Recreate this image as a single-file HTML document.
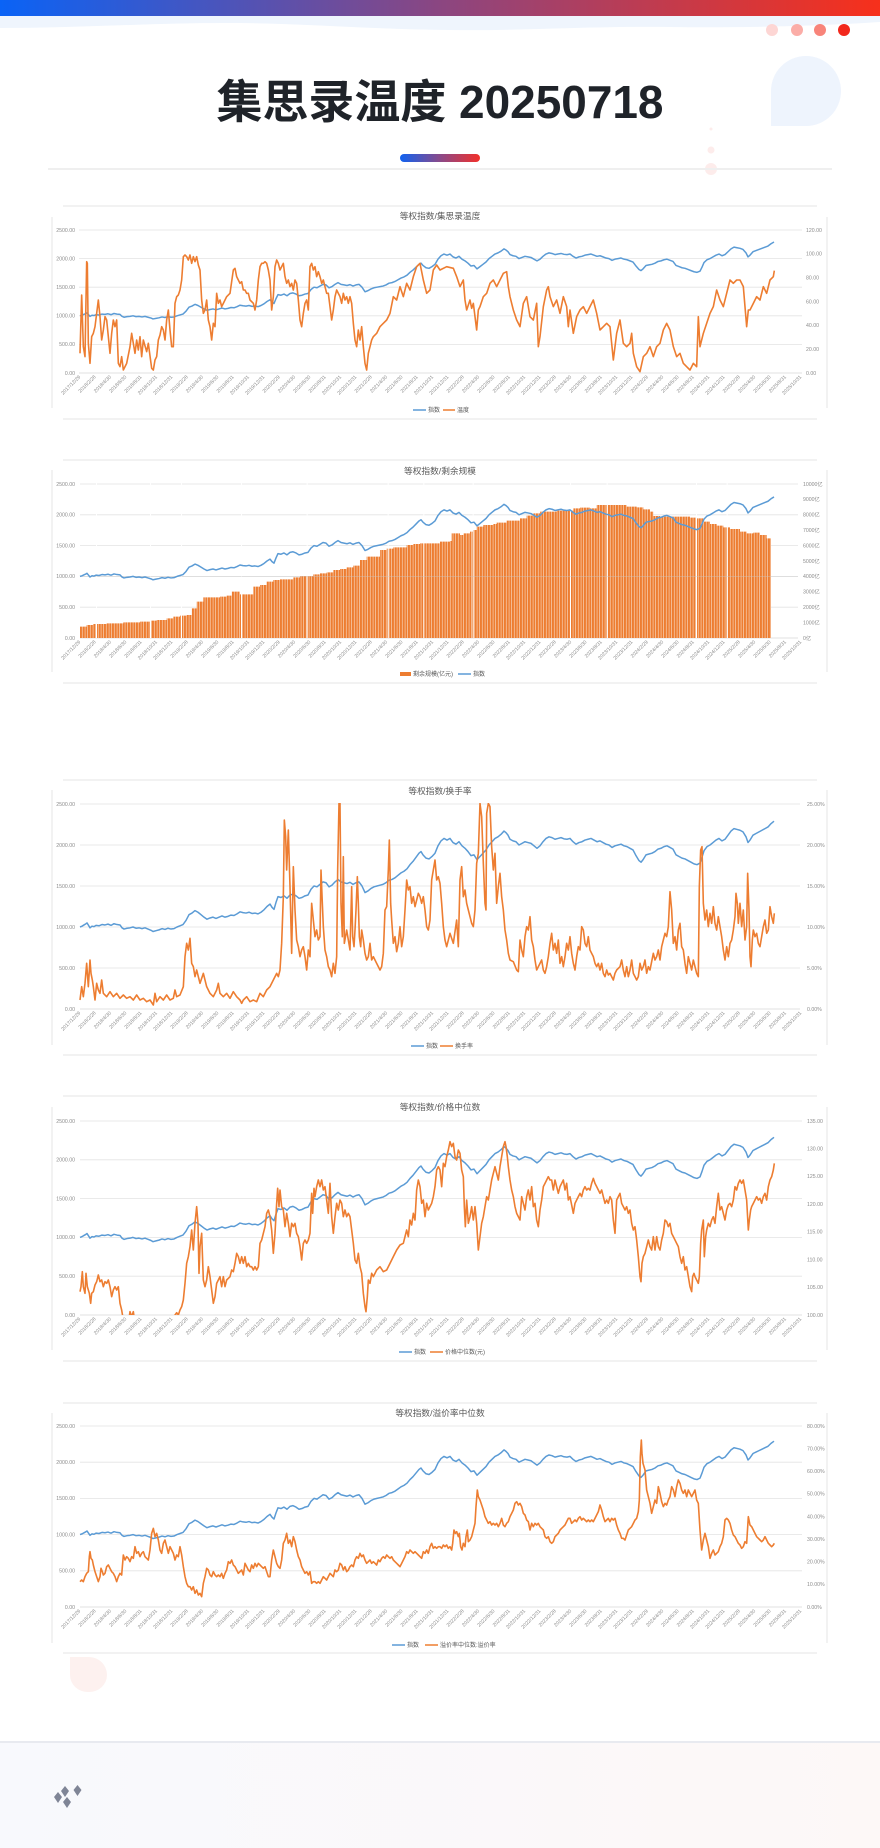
<!DOCTYPE html>
<html><head><meta charset="utf-8">
<style>
html,body{margin:0;padding:0;background:#fff;}
body{width:880px;height:1848px;overflow:hidden;position:relative;}
svg{position:absolute;left:0;top:0;}
text{font-family:"Liberation Sans","Noto Sans CJK SC",sans-serif;}
.ax{font-size:5.2px;fill:#8c8c8c;}
.al{text-anchor:end;}
.xl text{font-size:5px;fill:#8c8c8c;text-anchor:end;}
.tt{font-size:8.7px;fill:#595959;text-anchor:middle;}
.lg{font-size:6px;fill:#595959;}
.gr{stroke:#e3e3e3;stroke-width:0.8;}
.fr{stroke:#e6e6e6;stroke-width:1;}
.bl{fill:none;stroke:#5b9bd5;stroke-width:1.5;stroke-linejoin:round;}
.or{fill:none;stroke:#ed7d31;stroke-width:1.6;stroke-linejoin:round;}
</style></head>
<body>
<svg width="880" height="1848" viewBox="0 0 880 1848" xmlns="http://www.w3.org/2000/svg">
<defs>
<linearGradient id="gtop" x1="0" x2="1" y1="0" y2="0"><stop offset="0" stop-color="#0a63f6"/><stop offset="0.5" stop-color="#8b4681"/><stop offset="1" stop-color="#f7301b"/></linearGradient>
<linearGradient id="gpill" x1="0" x2="1" y1="0" y2="0"><stop offset="0" stop-color="#1062f0"/><stop offset="0.5" stop-color="#8a4a8a"/><stop offset="1" stop-color="#f2302a"/></linearGradient>
<linearGradient id="gfoot" x1="0" x2="1" y1="0" y2="0"><stop offset="0" stop-color="#f8f9fd"/><stop offset="1" stop-color="#fdf8f7"/></linearGradient>
<pattern id="bp" width="8" height="10" patternUnits="userSpaceOnUse"><rect width="8" height="10" fill="#fbe3d3"/><rect width="6.3" height="10" fill="#ed7d31"/></pattern>
<clipPath id="c3"><rect x="78" y="803" width="725" height="206"/></clipPath>
<clipPath id="c4"><rect x="78" y="1120" width="725" height="195"/></clipPath>
<polyline id="idx" class="bl" vector-effect="non-scaling-stroke" points="80,1000 82,1010 84,1025 86,1040 87,1050 88,1030 90,990 92,1010 94,1005 96,1020 99,1015 102,1030 105,1025 108,1035 111,1020 114,1040 117,1030 120,1025 122,990 124,975 127,985 130,990 133,1000 136,985 139,990 142,980 145,990 148,975 151,960 153,945 156,955 159,965 162,980 165,970 168,985 171,975 174,980 177,1000 180,1015 183,1030 186,1080 189,1150 192,1170 195,1200 198,1180 201,1150 204,1120 207,1095 210,1110 213,1120 216,1105 219,1120 222,1135 225,1120 228,1130 231,1145 234,1140 237,1160 240,1185 243,1175 246,1170 249,1180 252,1165 255,1170 258,1160 261,1180 264,1210 267,1250 270,1280 272,1240 274,1215 276,1300 278,1370 281,1360 284,1380 287,1350 290,1390 293,1400 296,1380 299,1350 302,1360 305,1380 308,1390 311,1460 314,1500 317,1490 320,1520 323,1550 326,1540 329,1490 332,1510 335,1550 338,1580 341,1550 344,1540 347,1530 350,1545 353,1520 356,1540 359,1550 362,1500 365,1420 368,1440 371,1470 374,1490 377,1500 380,1510 383,1520 386,1540 389,1570 392,1580 395,1600 398,1630 401,1660 404,1680 407,1710 410,1760 413,1800 416,1850 419,1900 421,1920 423,1880 426,1840 429,1830 432,1860 435,1900 438,1990 441,2050 444,2080 447,2060 450,2080 453,2030 456,2010 459,2040 462,1990 465,1960 468,1920 471,1870 474,1880 477,1820 480,1860 483,1900 486,1940 489,2000 492,2040 495,2080 498,2100 501,2130 504,2170 506,2150 508,2120 510,2070 513,2050 516,2040 519,2000 522,2020 525,2040 528,2030 531,2020 534,1990 537,1960 540,1990 543,2040 546,2080 549,2100 552,2090 555,2070 558,2080 561,2090 564,2075 567,2070 570,2080 573,2040 576,2010 579,2030 582,2040 585,2060 588,2070 591,2080 594,2060 597,2040 600,2050 603,2030 606,2010 609,2000 612,1970 615,1990 618,2000 621,2010 624,1990 627,1980 630,1960 633,1940 636,1870 639,1810 641,1790 643,1820 646,1880 649,1890 652,1900 655,1920 658,1950 661,1960 664,1980 667,1990 670,1970 673,1950 676,1880 679,1860 682,1840 685,1830 688,1810 691,1790 694,1770 697,1760 700,1780 702,1850 704,1930 707,1980 710,2000 713,2030 716,2060 719,2080 722,2050 725,2070 728,2120 731,2170 734,2200 737,2190 740,2180 743,2160 746,2100 748,2030 750,2060 753,2120 756,2140 759,2160 762,2180 765,2200 768,2220 771,2260 774,2290"/>
</defs>

<!-- HEADER -->
<rect x="0" y="0" width="880" height="16" fill="url(#gtop)"/>
<path d="M0,16 H880 V22 C820,26 740,28 670,27 C590,26 520,31 450,30 C360,29 300,23 225,23 C150,23 80,28 0,28 Z" fill="#eff5fd"/>
<circle cx="772" cy="30" r="6" fill="#fdd6d4"/>
<circle cx="797" cy="30" r="6" fill="#fbada7"/>
<circle cx="820" cy="30" r="6" fill="#f8847a"/>
<circle cx="844" cy="30" r="6" fill="#f2281c"/>
<path d="M771,126 V91 A35,35 0 0 1 841,91 A35,35 0 0 1 806,126 Z" fill="#eef4fd"/>
<circle cx="711" cy="129" r="1.5" fill="#fdeceb"/>
<circle cx="711" cy="150" r="3.5" fill="#fdeceb"/>
<ellipse cx="711" cy="169" rx="6" ry="6" fill="#fdeceb"/>
<text x="440" y="118" text-anchor="middle" textLength="447" lengthAdjust="spacingAndGlyphs" style="font-family:'Liberation Sans','Noto Sans CJK SC',sans-serif;font-size:46px;font-weight:700;fill:#1f2329;">集思录温度 20250718</text>
<rect x="400" y="154" width="80" height="8" rx="4" fill="url(#gpill)"/>
<rect x="48" y="168" width="784" height="2" fill="#efefef"/>

<!-- ============ CHART 1 ============ -->
<g class="fr"><line x1="63" y1="206" x2="817" y2="206"/><line x1="63" y1="419" x2="817" y2="419"/><line x1="52" y1="217" x2="52" y2="408"/><line x1="827" y1="217" x2="827" y2="408"/></g>
<text class="tt" x="440" y="219">等权指数/集思录温度</text>
<g class="gr"><line x1="79" x2="802" y1="230" y2="230"/><line x1="79" x2="802" y1="258.6" y2="258.6"/><line x1="79" x2="802" y1="287.2" y2="287.2"/><line x1="79" x2="802" y1="315.8" y2="315.8"/><line x1="79" x2="802" y1="344.4" y2="344.4"/><line x1="79" x2="802" y1="373" y2="373" stroke="#d6d6d6"/></g>
<g class="ax al"><text x="75" y="231.8">2500.00</text><text x="75" y="260.4">2000.00</text><text x="75" y="289">1500.00</text><text x="75" y="317.6">1000.00</text><text x="75" y="346.2">500.00</text><text x="75" y="374.8">0.00</text></g>
<g class="ax"><text x="806" y="231.8">120.00</text><text x="806" y="255.6">100.00</text><text x="806" y="279.5">80.00</text><text x="806" y="303.3">60.00</text><text x="806" y="327.1">40.00</text><text x="806" y="351">20.00</text><text x="806" y="374.8">0.00</text></g>
<g class="xl" transform="translate(0,376)">
<text transform="translate(79.5,0) rotate(-45)" dy="1.8">2017/12/29</text><text transform="translate(94.84,0) rotate(-45)" dy="1.8">2018/2/28</text><text transform="translate(110.18,0) rotate(-45)" dy="1.8">2018/4/30</text><text transform="translate(125.52,0) rotate(-45)" dy="1.8">2018/6/30</text><text transform="translate(140.86,0) rotate(-45)" dy="1.8">2018/8/31</text><text transform="translate(156.2,0) rotate(-45)" dy="1.8">2018/10/31</text><text transform="translate(171.54,0) rotate(-45)" dy="1.8">2018/12/31</text><text transform="translate(186.88,0) rotate(-45)" dy="1.8">2019/2/28</text><text transform="translate(202.22,0) rotate(-45)" dy="1.8">2019/4/30</text><text transform="translate(217.56,0) rotate(-45)" dy="1.8">2019/6/30</text><text transform="translate(232.9,0) rotate(-45)" dy="1.8">2019/8/31</text><text transform="translate(248.24,0) rotate(-45)" dy="1.8">2019/10/31</text><text transform="translate(263.58,0) rotate(-45)" dy="1.8">2019/12/31</text><text transform="translate(278.92,0) rotate(-45)" dy="1.8">2020/2/29</text><text transform="translate(294.26,0) rotate(-45)" dy="1.8">2020/4/30</text><text transform="translate(309.6,0) rotate(-45)" dy="1.8">2020/6/30</text><text transform="translate(324.94,0) rotate(-45)" dy="1.8">2020/8/31</text><text transform="translate(340.28,0) rotate(-45)" dy="1.8">2020/10/31</text><text transform="translate(355.62,0) rotate(-45)" dy="1.8">2020/12/31</text><text transform="translate(370.96,0) rotate(-45)" dy="1.8">2021/2/28</text><text transform="translate(386.3,0) rotate(-45)" dy="1.8">2021/4/30</text><text transform="translate(401.64,0) rotate(-45)" dy="1.8">2021/6/30</text><text transform="translate(416.98,0) rotate(-45)" dy="1.8">2021/8/31</text><text transform="translate(432.32,0) rotate(-45)" dy="1.8">2021/10/31</text><text transform="translate(447.66,0) rotate(-45)" dy="1.8">2021/12/31</text><text transform="translate(463,0) rotate(-45)" dy="1.8">2022/2/28</text><text transform="translate(478.34,0) rotate(-45)" dy="1.8">2022/4/30</text><text transform="translate(493.68,0) rotate(-45)" dy="1.8">2022/6/30</text><text transform="translate(509.02,0) rotate(-45)" dy="1.8">2022/8/31</text><text transform="translate(524.36,0) rotate(-45)" dy="1.8">2022/10/31</text><text transform="translate(539.7,0) rotate(-45)" dy="1.8">2022/12/31</text><text transform="translate(555.04,0) rotate(-45)" dy="1.8">2023/2/28</text><text transform="translate(570.38,0) rotate(-45)" dy="1.8">2023/4/30</text><text transform="translate(585.72,0) rotate(-45)" dy="1.8">2023/6/30</text><text transform="translate(601.06,0) rotate(-45)" dy="1.8">2023/8/31</text><text transform="translate(616.4,0) rotate(-45)" dy="1.8">2023/10/31</text><text transform="translate(631.74,0) rotate(-45)" dy="1.8">2023/12/31</text><text transform="translate(647.08,0) rotate(-45)" dy="1.8">2024/2/29</text><text transform="translate(662.42,0) rotate(-45)" dy="1.8">2024/4/30</text><text transform="translate(677.76,0) rotate(-45)" dy="1.8">2024/6/30</text><text transform="translate(693.1,0) rotate(-45)" dy="1.8">2024/8/31</text><text transform="translate(708.44,0) rotate(-45)" dy="1.8">2024/10/31</text><text transform="translate(723.78,0) rotate(-45)" dy="1.8">2024/12/31</text><text transform="translate(739.12,0) rotate(-45)" dy="1.8">2025/2/28</text><text transform="translate(754.46,0) rotate(-45)" dy="1.8">2025/4/30</text><text transform="translate(769.8,0) rotate(-45)" dy="1.8">2025/6/30</text><text transform="translate(785.14,0) rotate(-45)" dy="1.8">2025/8/31</text><text transform="translate(800.48,0) rotate(-45)" dy="1.8">2025/10/31</text>
</g>
<use href="#idx" transform="translate(0,373) scale(1,-0.0572)"/>
<g transform="translate(40,200) scale(0.33333)"><polyline class="or" vector-effect="non-scaling-stroke" points="120,460 125,285 130,440 135,470 140,185 142,190 145,430 150,490 155,410 160,400 165,380 170,340 175,300 180,350 185,420 190,390 195,350 200,360 210,460 215,400 220,360 225,380 230,360 235,490 240,500 245,470 250,510 260,490 270,440 275,400 280,430 285,460 290,420 295,450 300,410 305,470 310,420 320,455 325,430 335,505 340,510 345,480 350,470 355,420 360,405 365,380 370,390 375,420 380,360 385,330 390,390 395,440 400,440 405,310 410,290 415,285 420,270 425,240 430,170 435,165 440,170 445,180 450,165 455,190 460,170 465,185 470,170 475,195 480,210 485,300 490,340 495,330 500,300 505,360 510,380 515,420 520,370 525,380 530,280 535,310 540,300 545,320 550,310 555,300 560,290 570,280 575,245 580,210 585,205 590,230 595,240 600,250 605,245 610,270 615,270 620,280 625,280 630,300 640,310 645,330 650,300 655,240 660,200 665,190 670,190 675,185 680,190 685,210 690,240 695,330 700,290 705,200 710,180 715,190 720,210 725,200 730,190 735,230 740,250 745,240 750,260 755,250 760,270 765,240 770,250 775,300 780,360 785,380 790,340 795,310 800,300 805,330 810,200 815,190 820,210 825,200 830,230 835,215 840,230 845,250 850,240 855,260 860,280 865,280 870,320 875,360 880,330 885,290 890,270 895,280 900,290 905,310 910,280 915,300 920,290 925,310 930,290 935,310 940,370 945,420 950,440 955,390 960,420 965,380 970,440 975,490 980,510 985,460 990,440 995,420 1000,410 1010,400 1020,380 1030,370 1040,360 1050,340 1060,290 1070,300 1080,260 1090,290 1100,250 1110,270 1120,230 1130,200 1140,190 1150,240 1160,280 1170,270 1180,210 1190,195 1200,210 1220,200 1240,205 1250,230 1260,260 1270,240 1275,300 1280,330 1290,300 1295,325 1300,310 1310,390 1315,330 1320,320 1330,290 1340,280 1350,250 1360,240 1370,260 1380,240 1390,220 1400,215 1405,260 1410,290 1420,330 1430,360 1440,380 1450,310 1460,290 1470,350 1480,360 1490,310 1495,440 1500,410 1510,320 1520,270 1525,260 1530,290 1540,320 1550,300 1560,340 1570,290 1580,320 1585,380 1590,330 1600,400 1610,350 1620,330 1630,320 1640,340 1650,320 1660,300 1670,340 1680,390 1690,380 1700,370 1710,380 1720,480 1730,400 1740,360 1750,430 1760,440 1770,430 1775,400 1780,460 1790,500 1800,515 1810,470 1820,460 1830,440 1840,470 1850,440 1860,430 1870,390 1880,370 1890,390 1900,440 1910,470 1920,460 1930,490 1940,500 1950,510 1960,490 1970,500 1975,350 1980,440 1990,400 2000,370 2010,340 2020,320 2030,270 2040,300 2050,320 2060,280 2070,240 2080,250 2090,240 2100,240 2110,260 2120,380 2125,330 2130,330 2140,310 2150,290 2160,300 2170,260 2180,280 2190,240 2200,230 2203,212"/></g>
<line x1="413" y1="410" x2="426" y2="410" stroke="#5b9bd5" stroke-width="1.5"/><text class="lg" x="428" y="412">指数</text>
<line x1="443" y1="410" x2="455" y2="410" stroke="#ed7d31" stroke-width="1.5"/><text class="lg" x="457" y="412">温度</text>

<!-- ============ CHART 2 ============ -->
<g class="fr"><line x1="63" y1="460" x2="817" y2="460"/><line x1="63" y1="683" x2="817" y2="683"/><line x1="52" y1="470" x2="52" y2="672"/><line x1="827" y1="470" x2="827" y2="672"/></g>
<text class="tt" x="440" y="474">等权指数/剩余规模</text>
<g class="gr"><line x1="80" x2="798" y1="484" y2="484"/><line x1="80" x2="798" y1="514.8" y2="514.8"/><line x1="80" x2="798" y1="545.6" y2="545.6"/><line x1="80" x2="798" y1="576.4" y2="576.4"/><line x1="80" x2="798" y1="607.2" y2="607.2"/><line x1="80" x2="798" y1="638" y2="638" stroke="#d6d6d6"/></g>
<g transform="translate(40,450) scale(0.33333)"><polygon fill="url(#bp)" points="120,564 120,530 140,530 140,525 160,525 160,522 200,522 200,520 250,520 250,517 300,517 300,515 330,515 330,512 350,512 350,510 380,510 380,505 400,505 400,500 420,500 420,497 440,497 440,495 455,495 455,475 470,475 470,455 490,455 490,442 540,442 540,440 560,440 560,437 575,437 575,425 600,425 600,433 640,433 640,410 660,410 660,405 680,405 680,395 700,395 700,390 720,390 720,388 760,388 760,382 780,382 780,378 820,378 820,373 840,373 840,370 860,370 860,367 880,367 880,360 900,360 900,357 920,357 920,352 940,352 940,347 960,347 960,330 980,330 980,320 1020,320 1020,300 1040,300 1040,296 1060,296 1060,292 1100,292 1100,285 1120,285 1120,282 1140,282 1140,280 1200,280 1200,275 1230,275 1230,273 1235,273 1235,250 1260,250 1260,255 1270,255 1270,250 1290,250 1290,245 1300,245 1300,240 1310,240 1310,230 1330,230 1330,225 1360,225 1360,222 1370,222 1370,218 1400,218 1400,212 1440,212 1440,205 1460,205 1460,197 1480,197 1480,190 1500,190 1500,185 1550,185 1550,182 1600,182 1600,175 1620,175 1620,173 1650,173 1650,175 1670,175 1670,165 1760,165 1760,170 1790,170 1790,172 1810,172 1810,178 1830,178 1830,185 1840,185 1840,198 1860,198 1860,200 1950,200 1950,203 1970,203 1970,205 1990,205 1990,215 2010,215 2010,222 2030,222 2030,227 2050,227 2050,232 2070,232 2070,237 2100,237 2100,245 2120,245 2120,250 2140,250 2140,248 2160,248 2160,255 2180,255 2180,265 2193,265 2193,564"/>
<g fill="#fff"><rect x="423" y="100" width="3" height="464"/><rect x="1043" y="100" width="3" height="464"/><rect x="1150" y="100" width="3" height="464"/><rect x="1298" y="100" width="3" height="464"/><rect x="1700" y="100" width="3" height="464"/><rect x="1968" y="100" width="3" height="464"/><rect x="2060" y="100" width="3" height="464"/><rect x="168" y="100" width="3" height="464"/><rect x="330" y="100" width="3" height="464"/><rect x="603" y="100" width="3" height="464"/><rect x="800" y="100" width="3" height="464"/><rect x="1590" y="100" width="3" height="464"/></g></g>
<line x1="80" x2="798" y1="576.4" y2="576.4" stroke="#c9c9c9" stroke-width="0.6" opacity="0.6"/>
<g class="ax al"><text x="75" y="485.8">2500.00</text><text x="75" y="516.6">2000.00</text><text x="75" y="547.4">1500.00</text><text x="75" y="578.2">1000.00</text><text x="75" y="609">500.00</text><text x="75" y="639.8">0.00</text></g>
<g class="ax"><text x="803" y="485.8">10000亿</text><text x="803" y="501.2">9000亿</text><text x="803" y="516.6">8000亿</text><text x="803" y="532">7000亿</text><text x="803" y="547.4">6000亿</text><text x="803" y="562.8">5000亿</text><text x="803" y="578.2">4000亿</text><text x="803" y="593.6">3000亿</text><text x="803" y="609">2000亿</text><text x="803" y="624.4">1000亿</text><text x="803" y="639.8">0亿</text></g>
<g class="xl" transform="translate(0,641)">
<text transform="translate(79.5,0) rotate(-45)" dy="1.8">2017/12/29</text><text transform="translate(94.84,0) rotate(-45)" dy="1.8">2018/2/28</text><text transform="translate(110.18,0) rotate(-45)" dy="1.8">2018/4/30</text><text transform="translate(125.52,0) rotate(-45)" dy="1.8">2018/6/30</text><text transform="translate(140.86,0) rotate(-45)" dy="1.8">2018/8/31</text><text transform="translate(156.2,0) rotate(-45)" dy="1.8">2018/10/31</text><text transform="translate(171.54,0) rotate(-45)" dy="1.8">2018/12/31</text><text transform="translate(186.88,0) rotate(-45)" dy="1.8">2019/2/28</text><text transform="translate(202.22,0) rotate(-45)" dy="1.8">2019/4/30</text><text transform="translate(217.56,0) rotate(-45)" dy="1.8">2019/6/30</text><text transform="translate(232.9,0) rotate(-45)" dy="1.8">2019/8/31</text><text transform="translate(248.24,0) rotate(-45)" dy="1.8">2019/10/31</text><text transform="translate(263.58,0) rotate(-45)" dy="1.8">2019/12/31</text><text transform="translate(278.92,0) rotate(-45)" dy="1.8">2020/2/29</text><text transform="translate(294.26,0) rotate(-45)" dy="1.8">2020/4/30</text><text transform="translate(309.6,0) rotate(-45)" dy="1.8">2020/6/30</text><text transform="translate(324.94,0) rotate(-45)" dy="1.8">2020/8/31</text><text transform="translate(340.28,0) rotate(-45)" dy="1.8">2020/10/31</text><text transform="translate(355.62,0) rotate(-45)" dy="1.8">2020/12/31</text><text transform="translate(370.96,0) rotate(-45)" dy="1.8">2021/2/28</text><text transform="translate(386.3,0) rotate(-45)" dy="1.8">2021/4/30</text><text transform="translate(401.64,0) rotate(-45)" dy="1.8">2021/6/30</text><text transform="translate(416.98,0) rotate(-45)" dy="1.8">2021/8/31</text><text transform="translate(432.32,0) rotate(-45)" dy="1.8">2021/10/31</text><text transform="translate(447.66,0) rotate(-45)" dy="1.8">2021/12/31</text><text transform="translate(463,0) rotate(-45)" dy="1.8">2022/2/28</text><text transform="translate(478.34,0) rotate(-45)" dy="1.8">2022/4/30</text><text transform="translate(493.68,0) rotate(-45)" dy="1.8">2022/6/30</text><text transform="translate(509.02,0) rotate(-45)" dy="1.8">2022/8/31</text><text transform="translate(524.36,0) rotate(-45)" dy="1.8">2022/10/31</text><text transform="translate(539.7,0) rotate(-45)" dy="1.8">2022/12/31</text><text transform="translate(555.04,0) rotate(-45)" dy="1.8">2023/2/28</text><text transform="translate(570.38,0) rotate(-45)" dy="1.8">2023/4/30</text><text transform="translate(585.72,0) rotate(-45)" dy="1.8">2023/6/30</text><text transform="translate(601.06,0) rotate(-45)" dy="1.8">2023/8/31</text><text transform="translate(616.4,0) rotate(-45)" dy="1.8">2023/10/31</text><text transform="translate(631.74,0) rotate(-45)" dy="1.8">2023/12/31</text><text transform="translate(647.08,0) rotate(-45)" dy="1.8">2024/2/29</text><text transform="translate(662.42,0) rotate(-45)" dy="1.8">2024/4/30</text><text transform="translate(677.76,0) rotate(-45)" dy="1.8">2024/6/30</text><text transform="translate(693.1,0) rotate(-45)" dy="1.8">2024/8/31</text><text transform="translate(708.44,0) rotate(-45)" dy="1.8">2024/10/31</text><text transform="translate(723.78,0) rotate(-45)" dy="1.8">2024/12/31</text><text transform="translate(739.12,0) rotate(-45)" dy="1.8">2025/2/28</text><text transform="translate(754.46,0) rotate(-45)" dy="1.8">2025/4/30</text><text transform="translate(769.8,0) rotate(-45)" dy="1.8">2025/6/30</text><text transform="translate(785.14,0) rotate(-45)" dy="1.8">2025/8/31</text><text transform="translate(800.48,0) rotate(-45)" dy="1.8">2025/10/31</text>
</g>
<use href="#idx" transform="translate(0,638) scale(1,-0.0616)"/>
<rect x="400" y="672" width="11" height="4" fill="#ed7d31"/><text class="lg" x="413" y="676">剩余规模(亿元)</text>
<line x1="458" y1="674" x2="471" y2="674" stroke="#5b9bd5" stroke-width="1.5"/><text class="lg" x="473" y="676">指数</text>

<!-- ============ CHART 3 ============ -->
<g class="fr"><line x1="63" y1="780" x2="817" y2="780"/><line x1="63" y1="1055" x2="817" y2="1055"/><line x1="52" y1="790" x2="52" y2="1045"/><line x1="827" y1="790" x2="827" y2="1045"/></g>
<text class="tt" x="440" y="794">等权指数/换手率</text>
<g class="gr"><line x1="80" x2="800" y1="804" y2="804"/><line x1="80" x2="800" y1="845" y2="845"/><line x1="80" x2="800" y1="886" y2="886"/><line x1="80" x2="800" y1="927" y2="927"/><line x1="80" x2="800" y1="968" y2="968"/><line x1="80" x2="800" y1="1009" y2="1009" stroke="#d6d6d6"/></g>
<g class="ax al"><text x="75" y="805.8">2500.00</text><text x="75" y="846.8">2000.00</text><text x="75" y="887.8">1500.00</text><text x="75" y="928.8">1000.00</text><text x="75" y="969.8">500.00</text><text x="75" y="1010.8">0.00</text></g>
<g class="ax"><text x="807" y="805.8">25.00%</text><text x="807" y="846.8">20.00%</text><text x="807" y="887.8">15.00%</text><text x="807" y="928.8">10.00%</text><text x="807" y="969.8">5.00%</text><text x="807" y="1010.8">0.00%</text></g>
<g class="xl" transform="translate(0,1012)">
<text transform="translate(79.5,0) rotate(-45)" dy="1.8">2017/12/29</text><text transform="translate(94.84,0) rotate(-45)" dy="1.8">2018/2/28</text><text transform="translate(110.18,0) rotate(-45)" dy="1.8">2018/4/30</text><text transform="translate(125.52,0) rotate(-45)" dy="1.8">2018/6/30</text><text transform="translate(140.86,0) rotate(-45)" dy="1.8">2018/8/31</text><text transform="translate(156.2,0) rotate(-45)" dy="1.8">2018/10/31</text><text transform="translate(171.54,0) rotate(-45)" dy="1.8">2018/12/31</text><text transform="translate(186.88,0) rotate(-45)" dy="1.8">2019/2/28</text><text transform="translate(202.22,0) rotate(-45)" dy="1.8">2019/4/30</text><text transform="translate(217.56,0) rotate(-45)" dy="1.8">2019/6/30</text><text transform="translate(232.9,0) rotate(-45)" dy="1.8">2019/8/31</text><text transform="translate(248.24,0) rotate(-45)" dy="1.8">2019/10/31</text><text transform="translate(263.58,0) rotate(-45)" dy="1.8">2019/12/31</text><text transform="translate(278.92,0) rotate(-45)" dy="1.8">2020/2/29</text><text transform="translate(294.26,0) rotate(-45)" dy="1.8">2020/4/30</text><text transform="translate(309.6,0) rotate(-45)" dy="1.8">2020/6/30</text><text transform="translate(324.94,0) rotate(-45)" dy="1.8">2020/8/31</text><text transform="translate(340.28,0) rotate(-45)" dy="1.8">2020/10/31</text><text transform="translate(355.62,0) rotate(-45)" dy="1.8">2020/12/31</text><text transform="translate(370.96,0) rotate(-45)" dy="1.8">2021/2/28</text><text transform="translate(386.3,0) rotate(-45)" dy="1.8">2021/4/30</text><text transform="translate(401.64,0) rotate(-45)" dy="1.8">2021/6/30</text><text transform="translate(416.98,0) rotate(-45)" dy="1.8">2021/8/31</text><text transform="translate(432.32,0) rotate(-45)" dy="1.8">2021/10/31</text><text transform="translate(447.66,0) rotate(-45)" dy="1.8">2021/12/31</text><text transform="translate(463,0) rotate(-45)" dy="1.8">2022/2/28</text><text transform="translate(478.34,0) rotate(-45)" dy="1.8">2022/4/30</text><text transform="translate(493.68,0) rotate(-45)" dy="1.8">2022/6/30</text><text transform="translate(509.02,0) rotate(-45)" dy="1.8">2022/8/31</text><text transform="translate(524.36,0) rotate(-45)" dy="1.8">2022/10/31</text><text transform="translate(539.7,0) rotate(-45)" dy="1.8">2022/12/31</text><text transform="translate(555.04,0) rotate(-45)" dy="1.8">2023/2/28</text><text transform="translate(570.38,0) rotate(-45)" dy="1.8">2023/4/30</text><text transform="translate(585.72,0) rotate(-45)" dy="1.8">2023/6/30</text><text transform="translate(601.06,0) rotate(-45)" dy="1.8">2023/8/31</text><text transform="translate(616.4,0) rotate(-45)" dy="1.8">2023/10/31</text><text transform="translate(631.74,0) rotate(-45)" dy="1.8">2023/12/31</text><text transform="translate(647.08,0) rotate(-45)" dy="1.8">2024/2/29</text><text transform="translate(662.42,0) rotate(-45)" dy="1.8">2024/4/30</text><text transform="translate(677.76,0) rotate(-45)" dy="1.8">2024/6/30</text><text transform="translate(693.1,0) rotate(-45)" dy="1.8">2024/8/31</text><text transform="translate(708.44,0) rotate(-45)" dy="1.8">2024/10/31</text><text transform="translate(723.78,0) rotate(-45)" dy="1.8">2024/12/31</text><text transform="translate(739.12,0) rotate(-45)" dy="1.8">2025/2/28</text><text transform="translate(754.46,0) rotate(-45)" dy="1.8">2025/4/30</text><text transform="translate(769.8,0) rotate(-45)" dy="1.8">2025/6/30</text><text transform="translate(785.14,0) rotate(-45)" dy="1.8">2025/8/31</text><text transform="translate(800.48,0) rotate(-45)" dy="1.8">2025/10/31</text>
</g>
<use href="#idx" transform="translate(0,1009) scale(1,-0.082)"/>
<g clip-path="url(#c3)"><g transform="translate(40,770) scale(0.33333)"><polyline class="or" vector-effect="non-scaling-stroke" points="120,690 125,650 130,680 135,640 140,580 145,650 150,570 153,610 157,630 160,650 165,690 170,640 175,660 180,670 185,630 190,670 200,680 210,665 220,680 230,670 240,685 250,675 260,685 270,680 280,690 290,675 300,690 310,685 320,695 330,690 340,705 345,670 350,695 360,680 370,690 380,675 390,690 400,685 405,660 410,680 420,675 430,650 435,560 440,520 445,540 450,505 455,580 460,590 465,620 470,600 475,620 480,640 490,610 500,650 510,670 520,680 530,660 535,640 540,670 550,680 560,670 570,685 580,665 590,680 600,690 605,700 610,690 620,680 630,695 640,690 650,695 660,670 670,680 680,660 690,650 700,630 710,610 715,620 720,600 725,520 730,380 733,150 737,200 740,300 745,180 750,350 755,550 760,290 765,420 770,510 775,530 780,560 785,540 790,530 795,560 800,600 805,540 810,560 815,400 820,450 825,500 830,480 835,510 840,500 843,300 847,400 850,470 855,540 860,560 865,590 870,600 875,620 880,580 885,610 890,560 893,300 897,100 900,100 903,400 907,500 910,260 913,520 920,480 925,510 930,540 935,350 938,500 942,530 945,480 948,420 952,320 955,400 958,500 962,530 965,480 970,510 975,550 980,570 985,560 990,520 995,570 1000,560 1010,580 1020,600 1025,590 1030,550 1035,420 1040,410 1045,300 1048,210 1052,400 1055,450 1060,520 1065,500 1070,545 1075,520 1080,470 1085,530 1090,500 1095,420 1100,330 1105,360 1110,350 1115,400 1120,380 1125,410 1130,390 1135,370 1140,380 1145,400 1150,380 1155,420 1160,470 1165,480 1170,450 1175,330 1180,300 1185,270 1190,330 1195,320 1200,340 1205,400 1210,470 1215,510 1220,530 1230,490 1240,520 1250,450 1255,530 1260,330 1265,290 1270,380 1275,360 1280,400 1285,420 1290,440 1295,460 1300,470 1305,420 1310,280 1315,250 1320,100 1325,140 1330,280 1335,400 1338,420 1340,130 1345,100 1350,110 1355,230 1360,300 1365,250 1370,400 1375,350 1380,310 1385,380 1390,420 1395,480 1400,510 1405,550 1410,570 1420,575 1430,600 1435,605 1440,510 1445,540 1450,560 1455,500 1460,470 1465,480 1470,440 1475,510 1480,530 1485,570 1490,600 1500,580 1505,570 1510,600 1515,610 1520,590 1525,560 1530,520 1535,490 1540,540 1545,520 1550,550 1555,510 1560,580 1565,560 1570,590 1575,560 1580,520 1585,540 1590,500 1595,550 1600,580 1605,600 1610,560 1615,530 1620,540 1625,470 1630,480 1635,520 1640,530 1645,500 1650,540 1655,550 1660,560 1665,580 1670,590 1675,580 1680,600 1685,580 1690,610 1695,620 1700,600 1705,615 1710,610 1720,630 1725,610 1730,600 1740,590 1745,570 1750,600 1755,620 1760,590 1765,620 1770,600 1775,570 1780,610 1785,620 1790,630 1795,620 1800,580 1805,600 1810,590 1815,570 1820,610 1825,590 1830,600 1840,550 1845,570 1850,560 1855,540 1860,570 1865,530 1870,510 1875,490 1880,500 1885,470 1890,365 1895,420 1900,520 1905,500 1910,540 1915,480 1920,460 1925,530 1930,540 1935,580 1940,610 1945,560 1950,580 1955,600 1960,570 1965,590 1970,610 1975,620 1978,350 1982,240 1986,230 1990,400 1995,450 2000,420 2005,470 2010,430 2015,460 2020,410 2025,460 2030,480 2035,440 2040,470 2045,500 2050,540 2055,570 2060,530 2065,560 2070,520 2075,510 2080,480 2085,440 2088,370 2092,400 2095,460 2100,400 2105,470 2110,420 2115,510 2120,470 2123,310 2127,420 2130,560 2133,590 2137,510 2140,480 2145,500 2150,490 2155,520 2160,530 2165,500 2170,470 2175,450 2180,490 2185,480 2190,410 2195,440 2200,460 2203,430"/></g></g>
<line x1="411" y1="1046" x2="424" y2="1046" stroke="#5b9bd5" stroke-width="1.5"/><text class="lg" x="426" y="1048">指数</text>
<line x1="440" y1="1046" x2="453" y2="1046" stroke="#ed7d31" stroke-width="1.5"/><text class="lg" x="455" y="1048">换手率</text>

<!-- ============ CHART 4 ============ -->
<g class="fr"><line x1="63" y1="1096" x2="817" y2="1096"/><line x1="63" y1="1361" x2="817" y2="1361"/><line x1="52" y1="1107" x2="52" y2="1350"/><line x1="827" y1="1107" x2="827" y2="1350"/></g>
<text class="tt" x="440" y="1110">等权指数/价格中位数</text>
<g class="gr"><line x1="80" x2="802" y1="1121" y2="1121"/><line x1="80" x2="802" y1="1159.8" y2="1159.8"/><line x1="80" x2="802" y1="1198.6" y2="1198.6"/><line x1="80" x2="802" y1="1237.4" y2="1237.4"/><line x1="80" x2="802" y1="1276.2" y2="1276.2"/><line x1="80" x2="802" y1="1315" y2="1315" stroke="#d6d6d6"/></g>
<g class="ax al"><text x="75" y="1122.8">2500.00</text><text x="75" y="1161.6">2000.00</text><text x="75" y="1200.4">1500.00</text><text x="75" y="1239.2">1000.00</text><text x="75" y="1278">500.00</text><text x="75" y="1316.8">0.00</text></g>
<g class="ax"><text x="807" y="1122.8">135.00</text><text x="807" y="1150.5">130.00</text><text x="807" y="1178.2">125.00</text><text x="807" y="1205.9">120.00</text><text x="807" y="1233.7">115.00</text><text x="807" y="1261.4">110.00</text><text x="807" y="1289.1">105.00</text><text x="807" y="1316.8">100.00</text></g>
<g class="xl" transform="translate(0,1318)">
<text transform="translate(79.5,0) rotate(-45)" dy="1.8">2017/12/29</text><text transform="translate(94.84,0) rotate(-45)" dy="1.8">2018/2/28</text><text transform="translate(110.18,0) rotate(-45)" dy="1.8">2018/4/30</text><text transform="translate(125.52,0) rotate(-45)" dy="1.8">2018/6/30</text><text transform="translate(140.86,0) rotate(-45)" dy="1.8">2018/8/31</text><text transform="translate(156.2,0) rotate(-45)" dy="1.8">2018/10/31</text><text transform="translate(171.54,0) rotate(-45)" dy="1.8">2018/12/31</text><text transform="translate(186.88,0) rotate(-45)" dy="1.8">2019/2/28</text><text transform="translate(202.22,0) rotate(-45)" dy="1.8">2019/4/30</text><text transform="translate(217.56,0) rotate(-45)" dy="1.8">2019/6/30</text><text transform="translate(232.9,0) rotate(-45)" dy="1.8">2019/8/31</text><text transform="translate(248.24,0) rotate(-45)" dy="1.8">2019/10/31</text><text transform="translate(263.58,0) rotate(-45)" dy="1.8">2019/12/31</text><text transform="translate(278.92,0) rotate(-45)" dy="1.8">2020/2/29</text><text transform="translate(294.26,0) rotate(-45)" dy="1.8">2020/4/30</text><text transform="translate(309.6,0) rotate(-45)" dy="1.8">2020/6/30</text><text transform="translate(324.94,0) rotate(-45)" dy="1.8">2020/8/31</text><text transform="translate(340.28,0) rotate(-45)" dy="1.8">2020/10/31</text><text transform="translate(355.62,0) rotate(-45)" dy="1.8">2020/12/31</text><text transform="translate(370.96,0) rotate(-45)" dy="1.8">2021/2/28</text><text transform="translate(386.3,0) rotate(-45)" dy="1.8">2021/4/30</text><text transform="translate(401.64,0) rotate(-45)" dy="1.8">2021/6/30</text><text transform="translate(416.98,0) rotate(-45)" dy="1.8">2021/8/31</text><text transform="translate(432.32,0) rotate(-45)" dy="1.8">2021/10/31</text><text transform="translate(447.66,0) rotate(-45)" dy="1.8">2021/12/31</text><text transform="translate(463,0) rotate(-45)" dy="1.8">2022/2/28</text><text transform="translate(478.34,0) rotate(-45)" dy="1.8">2022/4/30</text><text transform="translate(493.68,0) rotate(-45)" dy="1.8">2022/6/30</text><text transform="translate(509.02,0) rotate(-45)" dy="1.8">2022/8/31</text><text transform="translate(524.36,0) rotate(-45)" dy="1.8">2022/10/31</text><text transform="translate(539.7,0) rotate(-45)" dy="1.8">2022/12/31</text><text transform="translate(555.04,0) rotate(-45)" dy="1.8">2023/2/28</text><text transform="translate(570.38,0) rotate(-45)" dy="1.8">2023/4/30</text><text transform="translate(585.72,0) rotate(-45)" dy="1.8">2023/6/30</text><text transform="translate(601.06,0) rotate(-45)" dy="1.8">2023/8/31</text><text transform="translate(616.4,0) rotate(-45)" dy="1.8">2023/10/31</text><text transform="translate(631.74,0) rotate(-45)" dy="1.8">2023/12/31</text><text transform="translate(647.08,0) rotate(-45)" dy="1.8">2024/2/29</text><text transform="translate(662.42,0) rotate(-45)" dy="1.8">2024/4/30</text><text transform="translate(677.76,0) rotate(-45)" dy="1.8">2024/6/30</text><text transform="translate(693.1,0) rotate(-45)" dy="1.8">2024/8/31</text><text transform="translate(708.44,0) rotate(-45)" dy="1.8">2024/10/31</text><text transform="translate(723.78,0) rotate(-45)" dy="1.8">2024/12/31</text><text transform="translate(739.12,0) rotate(-45)" dy="1.8">2025/2/28</text><text transform="translate(754.46,0) rotate(-45)" dy="1.8">2025/4/30</text><text transform="translate(769.8,0) rotate(-45)" dy="1.8">2025/6/30</text><text transform="translate(785.14,0) rotate(-45)" dy="1.8">2025/8/31</text><text transform="translate(800.48,0) rotate(-45)" dy="1.8">2025/10/31</text>
</g>
<use href="#idx" transform="translate(0,1315) scale(1,-0.0776)"/>
<g clip-path="url(#c4)"><g transform="translate(40,1090) scale(0.33333)"><polyline class="or" vector-effect="non-scaling-stroke" points="120,605 123,590 127,545 130,590 135,610 138,550 142,590 148,610 152,640 155,610 160,605 165,585 170,575 175,555 180,575 185,570 190,590 195,575 200,580 205,570 210,590 215,620 220,600 225,590 230,600 235,590 240,640 245,660 250,690 255,700 265,700 270,665 275,680 280,665 285,700 400,700 405,675 410,668 415,675 420,660 425,650 430,630 435,580 440,520 445,500 450,470 455,420 460,480 465,400 470,350 474,400 477,550 480,470 485,430 490,570 495,590 500,570 505,530 510,560 515,600 520,640 525,620 530,580 540,560 545,590 550,560 555,590 560,570 570,560 575,540 580,545 585,520 590,490 595,500 600,520 605,500 610,520 615,500 620,530 625,520 630,530 635,530 640,540 645,530 650,540 655,530 660,460 665,450 670,430 675,410 680,370 685,360 690,380 695,420 700,490 705,430 710,340 713,295 717,350 720,300 725,350 730,360 735,410 740,370 745,400 750,440 755,400 760,410 765,400 770,430 775,440 780,470 785,510 790,460 795,450 800,460 805,450 810,430 815,310 818,370 822,295 825,320 830,290 835,270 840,290 845,270 850,300 855,290 860,330 865,370 870,280 875,380 880,430 885,380 890,340 895,360 900,330 905,340 910,380 915,360 920,380 925,370 930,380 935,420 940,460 945,510 950,520 955,490 960,530 965,550 970,610 975,650 978,665 982,620 985,570 990,580 995,550 1000,560 1005,550 1010,540 1020,530 1030,545 1040,540 1050,520 1060,500 1070,480 1080,465 1090,460 1100,420 1105,440 1110,390 1115,405 1120,370 1125,390 1130,300 1135,270 1140,290 1145,340 1150,330 1155,380 1160,340 1165,360 1170,350 1175,340 1180,320 1185,290 1190,240 1195,230 1200,240 1205,290 1210,220 1215,230 1220,200 1225,180 1230,155 1235,170 1240,160 1245,200 1250,210 1255,180 1260,190 1265,240 1270,260 1273,350 1276,410 1280,330 1285,400 1290,380 1295,350 1300,390 1305,350 1310,400 1315,480 1320,440 1325,400 1330,380 1335,350 1340,320 1345,330 1350,300 1355,270 1360,250 1365,230 1370,250 1375,270 1380,230 1385,200 1390,170 1395,155 1398,170 1402,200 1405,230 1410,270 1415,300 1420,320 1425,350 1430,370 1435,380 1440,390 1445,320 1450,340 1455,360 1460,320 1465,300 1470,330 1475,290 1480,350 1485,340 1490,390 1495,410 1500,360 1505,330 1510,290 1515,280 1520,270 1525,260 1530,270 1535,270 1540,300 1545,270 1550,290 1555,310 1560,290 1565,280 1570,270 1575,300 1580,280 1585,330 1590,320 1595,345 1600,370 1605,340 1610,330 1615,320 1620,310 1625,320 1630,300 1635,290 1640,300 1645,295 1650,300 1655,280 1660,265 1665,280 1670,290 1675,300 1680,310 1685,300 1690,320 1695,340 1700,330 1705,340 1710,320 1715,330 1720,390 1725,430 1730,330 1735,320 1740,310 1745,340 1750,350 1755,360 1760,350 1765,370 1770,360 1775,400 1780,420 1785,410 1790,450 1795,500 1800,560 1803,575 1806,520 1810,500 1815,490 1820,470 1825,450 1830,470 1835,480 1840,440 1845,480 1850,440 1855,470 1860,480 1865,450 1870,430 1875,390 1880,395 1885,410 1890,400 1895,430 1900,440 1905,450 1910,460 1915,470 1920,500 1925,520 1930,500 1935,540 1940,530 1945,560 1950,590 1955,605 1958,560 1962,550 1965,560 1970,570 1975,580 1978,560 1982,460 1985,420 1990,390 1993,500 1997,440 2000,420 2005,400 2010,410 2015,390 2020,380 2025,400 2030,350 2035,310 2040,360 2045,350 2050,370 2055,390 2060,360 2065,345 2070,340 2075,350 2080,330 2085,290 2090,300 2095,280 2100,270 2105,280 2110,270 2115,300 2120,330 2125,420 2128,390 2132,360 2135,350 2140,340 2145,330 2150,320 2155,330 2160,325 2165,340 2170,320 2175,310 2180,330 2185,290 2190,270 2195,260 2200,240 2203,220"/></g></g>
<line x1="399" y1="1352" x2="412" y2="1352" stroke="#5b9bd5" stroke-width="1.5"/><text class="lg" x="414" y="1354">指数</text>
<line x1="430" y1="1352" x2="443" y2="1352" stroke="#ed7d31" stroke-width="1.5"/><text class="lg" x="445" y="1354">价格中位数(元)</text>

<!-- ============ CHART 5 ============ -->
<g class="fr"><line x1="63" y1="1403" x2="817" y2="1403"/><line x1="63" y1="1653" x2="817" y2="1653"/><line x1="52" y1="1413" x2="52" y2="1643"/><line x1="827" y1="1413" x2="827" y2="1643"/></g>
<text class="tt" x="440" y="1416">等权指数/溢价率中位数</text>
<g class="gr"><line x1="80" x2="802" y1="1426" y2="1426"/><line x1="80" x2="802" y1="1462.2" y2="1462.2"/><line x1="80" x2="802" y1="1498.4" y2="1498.4"/><line x1="80" x2="802" y1="1534.6" y2="1534.6"/><line x1="80" x2="802" y1="1570.8" y2="1570.8"/><line x1="80" x2="802" y1="1607" y2="1607" stroke="#d6d6d6"/></g>
<g class="ax al"><text x="75" y="1427.8">2500.00</text><text x="75" y="1464">2000.00</text><text x="75" y="1500.2">1500.00</text><text x="75" y="1536.4">1000.00</text><text x="75" y="1572.6">500.00</text><text x="75" y="1608.8">0.00</text></g>
<g class="ax"><text x="807" y="1427.8">80.00%</text><text x="807" y="1450.4">70.00%</text><text x="807" y="1473.1">60.00%</text><text x="807" y="1495.7">50.00%</text><text x="807" y="1518.3">40.00%</text><text x="807" y="1540.9">30.00%</text><text x="807" y="1563.6">20.00%</text><text x="807" y="1586.2">10.00%</text><text x="807" y="1608.8">0.00%</text></g>
<g class="xl" transform="translate(0,1610)">
<text transform="translate(79.5,0) rotate(-45)" dy="1.8">2017/12/29</text><text transform="translate(94.84,0) rotate(-45)" dy="1.8">2018/2/28</text><text transform="translate(110.18,0) rotate(-45)" dy="1.8">2018/4/30</text><text transform="translate(125.52,0) rotate(-45)" dy="1.8">2018/6/30</text><text transform="translate(140.86,0) rotate(-45)" dy="1.8">2018/8/31</text><text transform="translate(156.2,0) rotate(-45)" dy="1.8">2018/10/31</text><text transform="translate(171.54,0) rotate(-45)" dy="1.8">2018/12/31</text><text transform="translate(186.88,0) rotate(-45)" dy="1.8">2019/2/28</text><text transform="translate(202.22,0) rotate(-45)" dy="1.8">2019/4/30</text><text transform="translate(217.56,0) rotate(-45)" dy="1.8">2019/6/30</text><text transform="translate(232.9,0) rotate(-45)" dy="1.8">2019/8/31</text><text transform="translate(248.24,0) rotate(-45)" dy="1.8">2019/10/31</text><text transform="translate(263.58,0) rotate(-45)" dy="1.8">2019/12/31</text><text transform="translate(278.92,0) rotate(-45)" dy="1.8">2020/2/29</text><text transform="translate(294.26,0) rotate(-45)" dy="1.8">2020/4/30</text><text transform="translate(309.6,0) rotate(-45)" dy="1.8">2020/6/30</text><text transform="translate(324.94,0) rotate(-45)" dy="1.8">2020/8/31</text><text transform="translate(340.28,0) rotate(-45)" dy="1.8">2020/10/31</text><text transform="translate(355.62,0) rotate(-45)" dy="1.8">2020/12/31</text><text transform="translate(370.96,0) rotate(-45)" dy="1.8">2021/2/28</text><text transform="translate(386.3,0) rotate(-45)" dy="1.8">2021/4/30</text><text transform="translate(401.64,0) rotate(-45)" dy="1.8">2021/6/30</text><text transform="translate(416.98,0) rotate(-45)" dy="1.8">2021/8/31</text><text transform="translate(432.32,0) rotate(-45)" dy="1.8">2021/10/31</text><text transform="translate(447.66,0) rotate(-45)" dy="1.8">2021/12/31</text><text transform="translate(463,0) rotate(-45)" dy="1.8">2022/2/28</text><text transform="translate(478.34,0) rotate(-45)" dy="1.8">2022/4/30</text><text transform="translate(493.68,0) rotate(-45)" dy="1.8">2022/6/30</text><text transform="translate(509.02,0) rotate(-45)" dy="1.8">2022/8/31</text><text transform="translate(524.36,0) rotate(-45)" dy="1.8">2022/10/31</text><text transform="translate(539.7,0) rotate(-45)" dy="1.8">2022/12/31</text><text transform="translate(555.04,0) rotate(-45)" dy="1.8">2023/2/28</text><text transform="translate(570.38,0) rotate(-45)" dy="1.8">2023/4/30</text><text transform="translate(585.72,0) rotate(-45)" dy="1.8">2023/6/30</text><text transform="translate(601.06,0) rotate(-45)" dy="1.8">2023/8/31</text><text transform="translate(616.4,0) rotate(-45)" dy="1.8">2023/10/31</text><text transform="translate(631.74,0) rotate(-45)" dy="1.8">2023/12/31</text><text transform="translate(647.08,0) rotate(-45)" dy="1.8">2024/2/29</text><text transform="translate(662.42,0) rotate(-45)" dy="1.8">2024/4/30</text><text transform="translate(677.76,0) rotate(-45)" dy="1.8">2024/6/30</text><text transform="translate(693.1,0) rotate(-45)" dy="1.8">2024/8/31</text><text transform="translate(708.44,0) rotate(-45)" dy="1.8">2024/10/31</text><text transform="translate(723.78,0) rotate(-45)" dy="1.8">2024/12/31</text><text transform="translate(739.12,0) rotate(-45)" dy="1.8">2025/2/28</text><text transform="translate(754.46,0) rotate(-45)" dy="1.8">2025/4/30</text><text transform="translate(769.8,0) rotate(-45)" dy="1.8">2025/6/30</text><text transform="translate(785.14,0) rotate(-45)" dy="1.8">2025/8/31</text><text transform="translate(800.48,0) rotate(-45)" dy="1.8">2025/10/31</text>
</g>
<use href="#idx" transform="translate(0,1607) scale(1,-0.0724)"/>
<g transform="translate(40,1390) scale(0.33333)"><polyline class="or" vector-effect="non-scaling-stroke" points="120,575 125,570 130,575 135,560 140,550 145,545 148,500 150,485 153,505 157,510 160,525 165,545 170,560 175,575 180,560 183,535 187,545 190,555 195,550 200,530 205,525 210,535 215,545 220,550 225,560 230,575 235,560 240,550 245,555 250,495 255,510 260,500 265,505 270,515 275,500 280,505 285,470 290,490 295,485 300,500 305,490 310,485 315,500 320,505 325,510 330,480 335,430 340,415 345,440 350,430 355,450 360,480 365,490 370,460 375,450 380,470 385,490 390,470 395,480 400,490 405,510 410,495 415,500 420,470 425,495 430,530 435,560 440,580 445,590 450,590 455,600 460,590 465,610 470,600 475,615 480,610 485,620 490,580 495,560 500,535 505,540 510,555 515,560 520,545 525,555 530,560 535,555 540,560 545,550 550,565 555,550 560,540 565,515 570,520 575,510 580,525 585,530 590,540 595,550 600,545 605,540 610,555 615,520 620,530 625,540 630,545 635,525 640,535 645,520 650,530 655,520 660,525 665,530 670,535 675,530 680,545 685,560 690,560 695,510 700,480 705,500 710,520 715,530 720,535 725,510 730,460 735,450 740,430 745,460 750,450 755,470 760,440 765,455 770,480 775,500 780,510 785,530 790,540 795,550 800,545 805,555 810,545 815,580 820,575 825,575 830,580 835,575 840,580 845,570 850,560 855,565 860,570 865,560 870,550 875,555 880,560 885,540 890,545 895,540 900,520 905,525 910,540 915,530 920,545 925,540 930,530 935,525 940,530 945,510 950,500 955,505 960,490 965,500 970,495 975,510 980,520 985,515 990,510 995,520 1000,515 1005,520 1010,525 1015,510 1020,515 1025,505 1030,500 1035,505 1040,495 1045,500 1050,505 1055,500 1060,510 1065,515 1070,520 1075,525 1080,530 1085,520 1090,510 1095,500 1100,485 1105,490 1110,480 1115,485 1120,490 1125,485 1130,490 1135,495 1140,500 1145,505 1150,485 1155,490 1160,480 1165,490 1170,470 1175,460 1180,475 1185,470 1190,475 1195,470 1200,470 1205,475 1210,465 1215,470 1220,465 1225,475 1230,470 1235,480 1238,460 1242,420 1246,430 1250,425 1255,440 1258,430 1262,470 1266,480 1270,460 1275,470 1278,440 1282,420 1285,455 1290,450 1295,440 1300,420 1305,400 1308,350 1312,300 1315,320 1320,330 1325,345 1330,360 1335,380 1340,390 1345,400 1350,395 1355,405 1360,400 1365,405 1370,400 1375,410 1380,400 1385,385 1390,405 1395,410 1400,400 1405,395 1410,380 1415,370 1420,360 1425,340 1430,335 1435,345 1440,340 1445,350 1450,370 1455,375 1460,390 1465,395 1470,420 1475,400 1480,410 1485,400 1490,405 1495,400 1500,410 1505,415 1510,420 1515,440 1520,445 1525,440 1530,455 1535,460 1540,455 1545,440 1550,435 1555,430 1560,420 1565,415 1570,410 1575,405 1580,395 1585,385 1590,385 1595,400 1600,395 1605,390 1610,395 1615,385 1620,380 1625,390 1630,385 1635,390 1640,395 1645,390 1650,395 1655,390 1660,395 1665,385 1670,375 1675,365 1680,345 1685,360 1690,380 1695,395 1700,390 1705,385 1710,395 1715,385 1720,390 1725,385 1730,405 1735,420 1740,430 1745,445 1750,445 1755,450 1760,435 1765,420 1770,415 1775,410 1780,400 1785,390 1790,385 1795,365 1798,330 1801,200 1804,150 1806,190 1809,220 1812,230 1815,240 1820,300 1825,320 1830,340 1835,370 1840,350 1845,330 1850,340 1855,290 1860,310 1865,335 1870,350 1875,340 1880,345 1885,330 1890,320 1895,290 1900,300 1905,320 1910,290 1915,270 1920,280 1925,300 1930,310 1935,300 1940,320 1945,300 1950,310 1955,320 1960,310 1965,300 1970,330 1975,340 1980,420 1985,480 1990,450 1995,430 2000,450 2005,470 2010,505 2015,490 2020,480 2025,495 2030,490 2035,485 2040,470 2045,460 2050,440 2055,390 2060,385 2065,390 2070,400 2075,420 2080,435 2085,440 2090,450 2095,460 2100,465 2105,475 2110,470 2115,455 2120,460 2125,380 2130,405 2135,410 2140,420 2145,430 2150,440 2155,445 2160,450 2165,455 2170,450 2175,440 2180,450 2185,460 2190,465 2195,470 2200,465 2203,460"/></g>
<line x1="392" y1="1645" x2="405" y2="1645" stroke="#5b9bd5" stroke-width="1.5"/><text class="lg" x="407" y="1647">指数</text>
<line x1="425" y1="1645" x2="438" y2="1645" stroke="#ed7d31" stroke-width="1.5"/><text class="lg" x="440" y="1647">溢价率中位数:溢价率</text>

<!-- decorative + footer -->
<path d="M70,1657 H89 A18,18 0 0 1 107,1675 A18,17 0 0 1 88.5,1692 A18,17 0 0 1 70,1675 Z" fill="#fdf1ef"/>
<rect x="0" y="1741" width="880" height="2" fill="#e8eaf0"/>
<rect x="0" y="1743" width="880" height="105" fill="url(#gfoot)"/>
<g fill="#7f8596">
<polygon points="65,1786 69,1791 65,1797 61,1791"/>
<polygon points="77.5,1785 81.5,1790 77.5,1796 73.5,1790"/>
<polygon points="58,1792 62,1797 58,1803 54,1797"/>
<polygon points="67,1797 71,1802 67,1808 63,1802"/>
</g>
</svg>
</body></html>
